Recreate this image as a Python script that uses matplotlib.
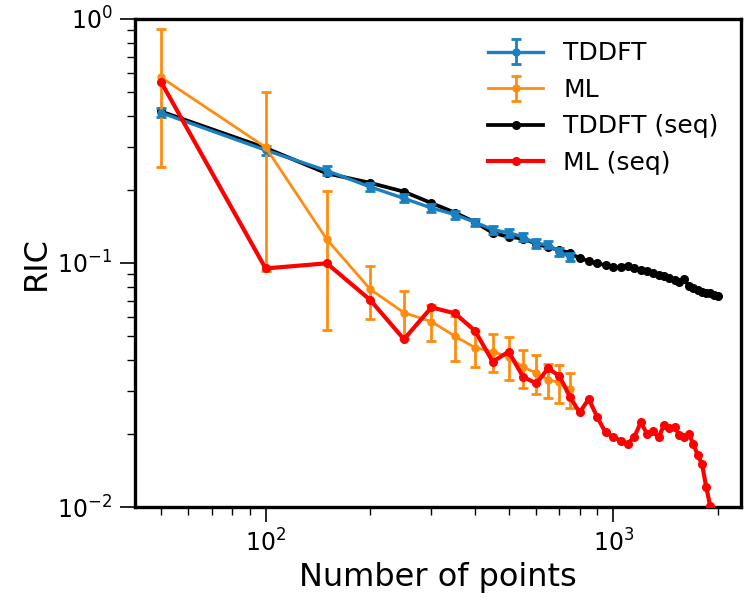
import numpy as np
import matplotlib
matplotlib.use("Agg")
import matplotlib.pyplot as plt

# TDDFT / ML with error bars (every 50 points up to 750)
n_err = [50, 100, 150, 200, 250, 300, 350, 400, 450, 500, 550, 600, 650, 700, 750]
ric_tddft = [0.413, 0.290, 0.239, 0.205, 0.184, 0.168, 0.158, 0.147, 0.137, 0.133,
             0.128, 0.120, 0.119, 0.111, 0.106]
err_tddft = [0.018, 0.012, 0.010, 0.008, 0.007, 0.006, 0.006, 0.005, 0.005, 0.005,
             0.005, 0.005, 0.004, 0.004, 0.004]
ric_ml = [0.577, 0.298, 0.125, 0.078, 0.0626, 0.0575, 0.0502, 0.045, 0.0433, 0.0413,
          0.0374, 0.0355, 0.0332, 0.0324, 0.0304]
err_ml = [0.33, 0.205, 0.072, 0.019, 0.014, 0.0095, 0.0105, 0.0075, 0.0077, 0.0083,
          0.0067, 0.0064, 0.0053, 0.0058, 0.005]

# sequential runs (every 50 points up to 2000)
n_seq = [50, 100, 150, 200, 250, 300, 350, 400, 450, 500,
         550, 600, 650, 700, 750, 800, 850, 900, 950, 1000,
         1050, 1100, 1150, 1200, 1250, 1300, 1350, 1400, 1450, 1500,
         1550, 1600, 1650, 1700, 1750, 1800, 1850, 1900, 1950, 2000]
ric_tddft_seq = [0.418, 0.296, 0.233, 0.213, 0.196, 0.176, 0.161, 0.147, 0.133, 0.128,
                 0.126, 0.120, 0.116, 0.113, 0.110, 0.1045, 0.102, 0.0997, 0.098, 0.096,
                 0.096, 0.0972, 0.095, 0.0936, 0.0927, 0.0907, 0.0893, 0.0885, 0.087, 0.0851,
                 0.0838, 0.0857, 0.0805, 0.0787, 0.0775, 0.0762, 0.0755, 0.0751, 0.0737, 0.0733]
ric_ml_seq = [0.553, 0.095, 0.0997, 0.0705, 0.0487, 0.0658, 0.0622, 0.0528, 0.0394, 0.0433,
              0.0342, 0.0321, 0.037, 0.0344, 0.0283, 0.0244, 0.0277, 0.0233, 0.0202, 0.0194,
              0.0187, 0.0182, 0.0194, 0.0222, 0.0200, 0.0204, 0.0193, 0.0217, 0.0210, 0.0212,
              0.0197, 0.0194, 0.0199, 0.0181, 0.0163, 0.0150, 0.0121, 0.0101, 0.0085, 0.0070]

c_blue = "#1a80c0"
c_orange = "#ff8c0f"

fig = plt.figure(figsize=(7.5, 6.01), dpi=100)
ax = fig.add_axes([0.1795, 0.1564, 0.8085, 0.812])

seq_t, = ax.plot(n_seq, ric_tddft_seq, marker="o", color="k", lw=2.7, ms=5.5,
                 label="TDDFT (seq)", zorder=2)
eb_t = ax.errorbar(n_err, ric_tddft, yerr=err_tddft, marker="o", color=c_blue, lw=2.4,
                   ms=5, elinewidth=2, capsize=3.5, capthick=2, label="TDDFT", zorder=3)
eb_m = ax.errorbar(n_err, ric_ml, yerr=err_ml, marker="o", color=c_orange, lw=2.0,
                   ms=5, elinewidth=2, capsize=3.5, capthick=2, label="ML", zorder=3)
seq_m, = ax.plot(n_seq, ric_ml_seq, marker="o", color="red", lw=3.0, ms=5.5,
                 label="ML (seq)", zorder=4)

ax.set_xscale("log")
ax.set_yscale("log")
ax.set_xlim(42, 2330)
ax.set_ylim(1e-2, 1e0)

ax.set_xlabel("Number of points", fontsize=23)
ax.set_ylabel("RIC", fontsize=23)

for s in ax.spines.values():
    s.set_linewidth(2.4)
ax.tick_params(which="major", direction="out", length=11, width=1.2, labelsize=17, pad=5)
ax.tick_params(which="minor", direction="out", length=5.5, width=1.0)

ax.legend(handles=[eb_t, eb_m, seq_t, seq_m], loc="upper right", frameon=False,
          fontsize=18, handlelength=2.2)

fig.savefig("out.png", dpi=100)
